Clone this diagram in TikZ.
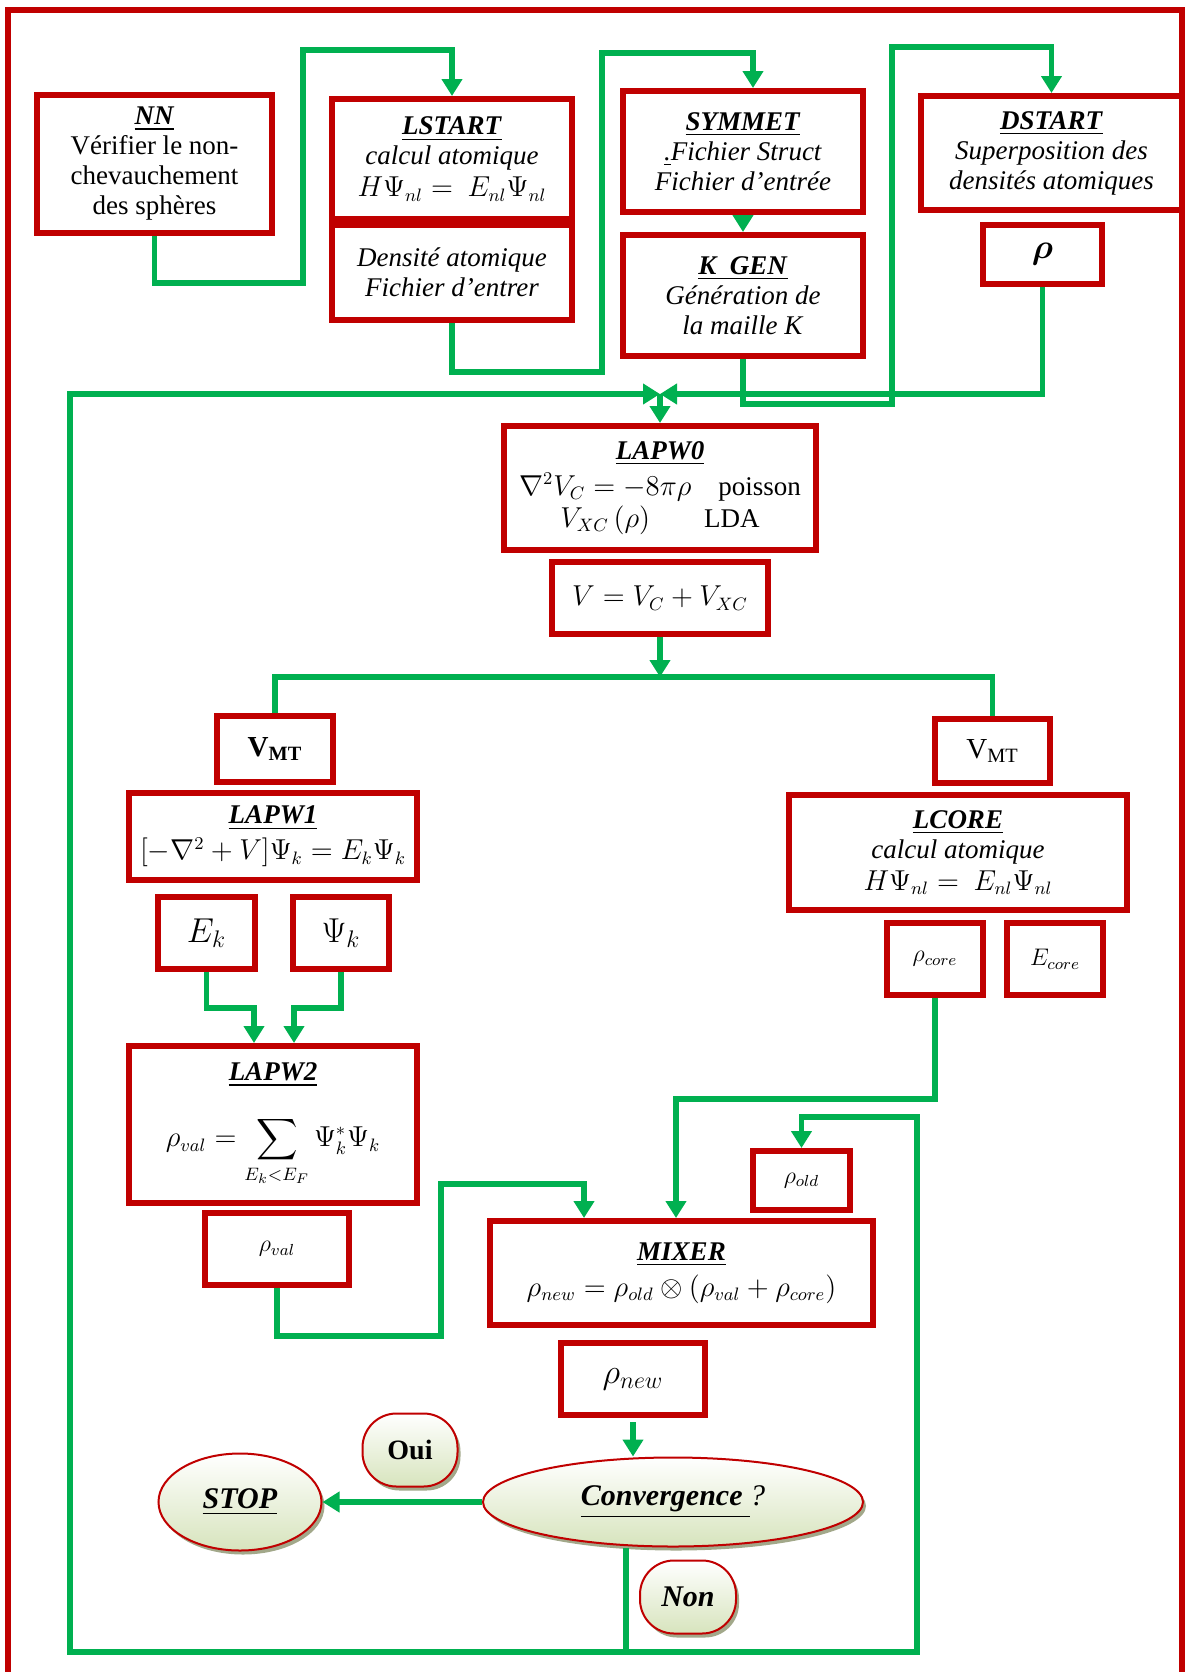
\documentclass[tikz,border=0pt]{standalone}
\usepackage{amsmath}
\usepackage{fontspec}
\setmainfont{Liberation Serif}
\usetikzlibrary{arrows.meta, positioning, shapes.geometric, shadows}

\definecolor{boxred}{HTML}{C00000}
\definecolor{flowgreen}{HTML}{00B050}
\definecolor{ovalfill}{HTML}{D7E4BD}
\definecolor{ovalshadow}{HTML}{A2A88A}

\newcommand{\titre}[1]{\underline{\textbf{\textit{#1}}}}

\begin{document}
\begin{tikzpicture}[x=0.5pt, y=-0.5pt, >={Triangle[length=8.5pt,width=10pt]},
    box/.style={draw=boxred, line width=3pt, fill=white, align=center, inner sep=1pt,
        font=\fontsize{13.5}{15}\selectfont},
    flow/.style={draw=flowgreen, line width=2.7pt},
    oval/.style={draw=boxred, line width=1pt, top color=white, bottom color=ovalfill,
        align=center, inner sep=0pt, font=\fontsize{15}{17}\selectfont,
        drop shadow={shadow xshift=1.5pt, shadow yshift=-2pt, fill=ovalshadow, opacity=1}}]
    \useasboundingbox (0,0) rectangle (1187,1672);

    % Frame
    \draw [draw=boxred, line width=3pt] (7.7,1672) |- (1182,10) -- (1182,1672);

    % Initialisation
    \node [box, minimum width=117.5pt, minimum height=69pt] (nn) at (154.5,164)
        {\titre{NN}\\Vérifier le non-\\chevauchement\\des sphères};
    \node [box, minimum width=120pt, minimum height=60pt] (lstart) at (452,159)
        {\titre{LSTART}\\\textit{calcul atomique}\\[1pt]$H\Psi_{nl} =\ E_{nl}\Psi_{nl}$};
    \node [box, minimum width=120pt, minimum height=47.5pt, below=0pt of lstart] (lstartb)
        {\textit{Densité atomique}\\\textit{Fichier d'entrer}};
    \node [box, minimum width=120pt, minimum height=60.5pt] (symmet) at (743,151.5)
        {\titre{SYMMET}\\\textit{\underline{.}Fichier Struct}\\\textit{Fichier d'entrée}};
    \node [box, minimum width=120pt, minimum height=60.5pt, below=8.5pt of symmet] (kgen)
        {\titre{K~~GEN}\\\textit{Génération de}\\\textit{la maille K}};
    \node [box, minimum width=130.5pt, minimum height=57pt] (dstart) at (1051.5,153)
        {\titre{DSTART}\\\textit{Superposition des}\\\textit{densités atomiques}};
    \node [box, minimum width=59.5pt, minimum height=29.5pt, font=\fontsize{16}{16}\selectfont]
        (rho) at (1042.5,254.5) {$\boldsymbol{\rho}$};

    \draw [flow, ->] (nn.south) |- (303,283) -- (303,50) -| (lstart.north);
    \draw [flow, ->] (lstartb.south) |- (602,372) -- (602,53) -| ([xshift=5pt]symmet.north);
    \draw [flow, ->] (symmet) -- (kgen);
    \draw [flow, ->] (kgen.south) |- (892,404) -- (892,47) -| (dstart.north);

    % Potential
    \coordinate (jn) at (660,394);
    \node [box, minimum width=156pt, minimum height=62pt] (lapw0) at (660,488)
        {\titre{LAPW0}\\[3pt]$\nabla^2V_C = -8\pi\rho$\quad poisson\\[1pt]$V_{XC}\,(\rho)$\qquad LDA};
    \node [box, minimum width=108pt, minimum height=36pt, below=3pt of lapw0] (v)
        {$V = V_C + V_{XC}$};
    \draw [flow, ->] (rho.south) |- (jn);
    \draw [flow, ->] (jn) -- (lapw0.north);

    \coordinate (hb) at (660,677);
    \node [box, minimum width=58pt, minimum height=33pt, font=\fontsize{14.5}{15}\selectfont]
        (vmtl) at (275,749) {$\mathbf{V_{MT}}$};
    \node [box, minimum width=57.5pt, minimum height=32pt, font=\fontsize{14.5}{15}\selectfont]
        (vmtr) at (992.5,751) {V\textsubscript{MT}};
    \draw [flow, ->] (v.south) -- (hb);
    \draw [flow] (vmtl.north) |- (hb) -| (vmtr.north);

    % Valence
    \node [box, minimum width=144pt, minimum height=43.5pt] (lapw1) at (273,836.5)
        {\titre{LAPW1}\\[3pt]$[-\nabla^2 + V]\Psi_k = E_k\Psi_k$};
    \node [box, minimum width=48.5pt, minimum height=36pt, font=\fontsize{17}{17}\selectfont]
        (ek) at (206.5,933) {$E_k$};
    \node [box, minimum width=48pt, minimum height=36pt, font=\fontsize{17}{17}\selectfont]
        (psik) at (341,933) {$\Psi_k$};
    \node [box, minimum width=144pt, minimum height=78.5pt] (lapw2) at (273,1124.5)
        {\titre{LAPW2}\\[14pt]$\rho_{val} = \displaystyle\sum_{E_k<E_F}\Psi_k^*\Psi_k$};
    \node [box, minimum width=72pt, minimum height=36pt, font=\fontsize{12}{12}\selectfont]
        (rhoval) at (277,1249) {$\rho_{val}$};
    \draw [flow, ->] (ek.south) -- ++(0,36) -| ([xshift=-9.5pt]lapw2.north);
    \draw [flow, ->] (psik.south) -- ++(0,36) -| ([xshift=10.5pt]lapw2.north);

    % Core
    \node [box, minimum width=169pt, minimum height=57.5pt] (lcore) at (958,852.5)
        {\titre{LCORE}\\\textit{calcul atomique}\\[1pt]$H\Psi_{nl} =\ E_{nl}\Psi_{nl}$};
    \node [box, minimum width=48pt, minimum height=36pt, font=\fontsize{12}{12}\selectfont]
        (rhocore) at (935,959) {$\rho_{core}$};
    \node [box, minimum width=48pt, minimum height=36pt, font=\fontsize{12}{12}\selectfont]
        (ecore) at (1055,959) {$E_{core}$};

    % Mixing
    \node [box, minimum width=48.5pt, minimum height=29.5pt, font=\fontsize{12}{12}\selectfont]
        (rhoold) at (801.5,1180.5) {$\rho_{old}$};
    \node [box, minimum width=191.5pt, minimum height=52pt] (mixer) at (681.5,1273)
        {\titre{MIXER}\\[3pt]$\rho_{new} = \rho_{old}\otimes(\rho_{val} + \rho_{core})$};
    \node [box, minimum width=72pt, minimum height=36pt, font=\fontsize{17}{17}\selectfont]
        (rhonew) at (633,1379) {$\rho_{new}$};
    \draw [flow, ->] (rhoval.south) |- (441,1336) -- (441,1184) -| ([xshift=-48.75pt]mixer.north);
    \draw [flow, ->] (rhocore.south) |- (676,1099) -- ([xshift=-2.75pt]mixer.north);

    % Test
    \node [oval, ellipse, minimum width=190pt, minimum height=44.5pt] (conv) at (673,1502)
        {\underline{\textbf{\textit{Convergence}}~}\textit{?}};
    \node [oval, ellipse, minimum width=81.5pt, minimum height=48.5pt] (stop) at (240,1502)
        {\titre{STOP}};
    \node [oval, rounded corners=17pt, minimum width=47.5pt, minimum height=36.5pt,
        font=\fontsize{14}{15}\selectfont] (oui) at (410,1450) {\textbf{Oui}};
    \node [oval, rounded corners=17pt, minimum width=48pt, minimum height=36.5pt] (non)
        at (688,1597) {\textbf{\textit{Non}}};
    \draw [flow, ->] ([yshift=-2pt]rhonew.south) -- (rhonew.south |- conv.north);
    \draw [flow, ->] (conv) -- (stop);

    % Loops
    \coordinate (cb) at (626,1652);
    \draw [flow, ->] (conv.south -| cb) -- (cb) -| (70,394) -- (jn);
    \draw [flow, ->] (cb) -| (917,1117) -| (rhoold.north);

\end{tikzpicture}
\end{document}
